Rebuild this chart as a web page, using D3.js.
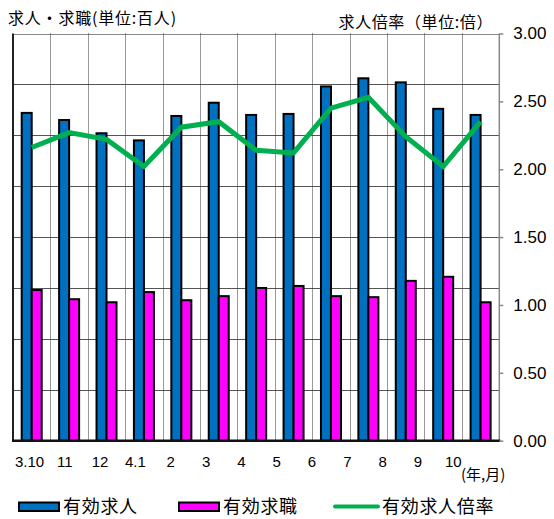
<!DOCTYPE html>
<html>
<head>
<meta charset="utf-8">
<script src="https://cdn.jsdelivr.net/npm/d3@7"></script>
<style>
  html, body { margin: 0; padding: 0; background: #fff; }
  svg { display: block; }
</style>
</head>
<body>
<svg id="chart" width="554" height="519"></svg>
<script>
// Monthly job openings / job seekers (hundreds of people) and the openings-to-applicants ratio
const months = ["3.10", "11", "12", "4.1", "2", "3", "4", "5", "6", "7", "8", "9", "10"];
const openings = [32.2, 31.5, 30.2, 29.5, 31.9, 33.2, 32.0, 32.1, 34.8, 35.6, 35.2, 32.6, 32.0];
const seekers  = [14.8, 13.9, 13.6, 14.6, 13.8, 14.2, 15.0, 15.2, 14.2, 14.1, 15.7, 16.1, 13.6];
const ratio    = [2.16, 2.27, 2.22, 2.02, 2.31, 2.35, 2.14, 2.12, 2.45, 2.53, 2.24, 2.02, 2.35];
const countTicks = [0, 5, 10, 15, 20, 25, 30, 35, 40];
const ratioTicks = [0, 0.5, 1.0, 1.5, 2.0, 2.5, 3.0];
const seriesNames = ["有効求人", "有効求職", "有効求人倍率"];

const svg = d3.select("#chart");
const cjk = "'Noto Sans CJK JP', 'Noto Sans', sans-serif";
const latin = "'Liberation Sans', Arial, sans-serif";

const plot = { left: 13, right: 499.3, top: 33.5, bottom: 440.7 };

const x = d3.scaleBand().domain(months).range([plot.left, plot.right]).padding(0);
const xInner = d3.scaleBand().domain(["o", "s"]).range([0, x.bandwidth()])
  .paddingInner(0).paddingOuter(0.87);
const yCount = d3.scaleLinear().domain([0, 40]).range([plot.bottom, plot.top]);
const yRatio = d3.scaleLinear().domain([0, 3]).range([plot.bottom, plot.top]);
// month labels sit on their own evenly spaced row under the plot
const xLabel = d3.scalePoint().domain(months).range([29.5, 453.3]);

// horizontal gridlines
svg.append("g").selectAll("line").data(countTicks.slice(1)).join("line")
  .attr("x1", plot.left).attr("x2", plot.right)
  .attr("y1", d => Math.round(yCount(d)) + 0.5).attr("y2", d => Math.round(yCount(d)) + 0.5)
  .attr("stroke", d => d === 40 ? "#8a8a8a" : "#555").attr("stroke-width", 1);

// dotted separators between months
svg.append("g").selectAll("line").data(months.slice(1)).join("line")
  .attr("x1", d => Math.round(x(d)) + 0.5).attr("x2", d => Math.round(x(d)) + 0.5)
  .attr("y1", plot.top).attr("y2", plot.bottom)
  .attr("stroke", "#333").attr("stroke-width", 1).attr("stroke-dasharray", "1,1");

// right frame line
svg.append("line")
  .attr("x1", plot.right).attr("x2", plot.right)
  .attr("y1", plot.top).attr("y2", plot.bottom)
  .attr("stroke", "#888").attr("stroke-width", 1.5);

// bars
const groups = svg.append("g").selectAll("g").data(months).join("g")
  .attr("transform", d => `translate(${x(d)},0)`);
groups.append("rect")
  .attr("x", xInner("o")).attr("width", xInner.bandwidth())
  .attr("y", (d, i) => yCount(openings[i]))
  .attr("height", (d, i) => yCount(0) - yCount(openings[i]))
  .attr("fill", "#0070C0").attr("stroke", "#000").attr("stroke-width", 2);
groups.append("rect")
  .attr("x", xInner("s")).attr("width", xInner.bandwidth())
  .attr("y", (d, i) => yCount(seekers[i]))
  .attr("height", (d, i) => yCount(0) - yCount(seekers[i]))
  .attr("fill", "#FF00FF").attr("stroke", "#000").attr("stroke-width", 2);

// ratio line
const line = d3.line()
  .x((d, i) => x(months[i]) + x.bandwidth() / 2)
  .y(d => yRatio(d));
svg.append("path").datum(ratio)
  .attr("d", line)
  .attr("fill", "none").attr("stroke", "#00B050").attr("stroke-width", 5)
  .attr("stroke-linejoin", "miter");

// left axis line and baseline
svg.append("line")
  .attr("x1", plot.left).attr("x2", plot.left)
  .attr("y1", plot.top).attr("y2", plot.bottom)
  .attr("stroke", "#222").attr("stroke-width", 2);
svg.append("line")
  .attr("x1", plot.left - 1).attr("x2", plot.right + 1)
  .attr("y1", plot.bottom).attr("y2", plot.bottom)
  .attr("stroke", "#111").attr("stroke-width", 2.5);

// right ratio axis
const rAxis = svg.append("g")
  .attr("transform", `translate(${plot.right},0)`)
  .call(d3.axisRight(yRatio).tickValues(ratioTicks).tickFormat(d3.format(".2f"))
    .tickSize(4).tickPadding(10));
rAxis.select(".domain").remove();
rAxis.selectAll(".tick line").attr("stroke", "#888").attr("stroke-width", 1.5);
rAxis.selectAll(".tick text")
  .attr("font-family", latin).attr("font-size", 17).attr("fill", "#000");

// month labels
svg.append("g").selectAll("text").data(months).join("text")
  .attr("x", d => xLabel(d)).attr("y", 466.5)
  .attr("text-anchor", "middle")
  .attr("font-family", latin).attr("font-size", 15).attr("fill", "#000")
  .text(d => d);
svg.append("text")
  .attr("x", 461).attr("y", 480)
  .attr("font-family", cjk).attr("font-size", 15).attr("fill", "#000")
  .text("(年,月)");

// axis titles
svg.append("text")
  .attr("x", 8).attr("y", 23.5)
  .attr("font-family", cjk).attr("font-size", 16).attr("letter-spacing", 0.8)
  .attr("fill", "#000")
  .text("求人・求職(単位:百人)");
svg.append("text")
  .attr("x", 493).attr("y", 28)
  .attr("text-anchor", "end")
  .attr("font-family", cjk).attr("font-size", 16).attr("letter-spacing", 0.6)
  .attr("fill", "#000")
  .text("求人倍率（単位:倍）");

// legend
const legend = svg.append("g");
const legendItems = [
  { name: seriesNames[0], type: "rect", color: "#0070C0", x: 19 },
  { name: seriesNames[1], type: "rect", color: "#FF00FF", x: 179 },
  { name: seriesNames[2], type: "line", color: "#00B050", x: 335 }
];
legendItems.forEach(item => {
  if (item.type === "rect") {
    legend.append("rect")
      .attr("x", item.x).attr("y", 502.5).attr("width", 40).attr("height", 8.5)
      .attr("fill", item.color).attr("stroke", "#000").attr("stroke-width", 2);
  } else {
    legend.append("line")
      .attr("x1", item.x).attr("x2", item.x + 43)
      .attr("y1", 506.5).attr("y2", 506.5)
      .attr("stroke", item.color).attr("stroke-width", 4).attr("stroke-linecap", "round");
  }
  legend.append("text")
    .attr("x", item.x + (item.type === "rect" ? 44 : 47)).attr("y", 513)
    .attr("font-family", cjk).attr("font-size", 18).attr("letter-spacing", 0.7)
    .attr("fill", "#000")
    .text(item.name);
});
</script>
</body>
</html>
